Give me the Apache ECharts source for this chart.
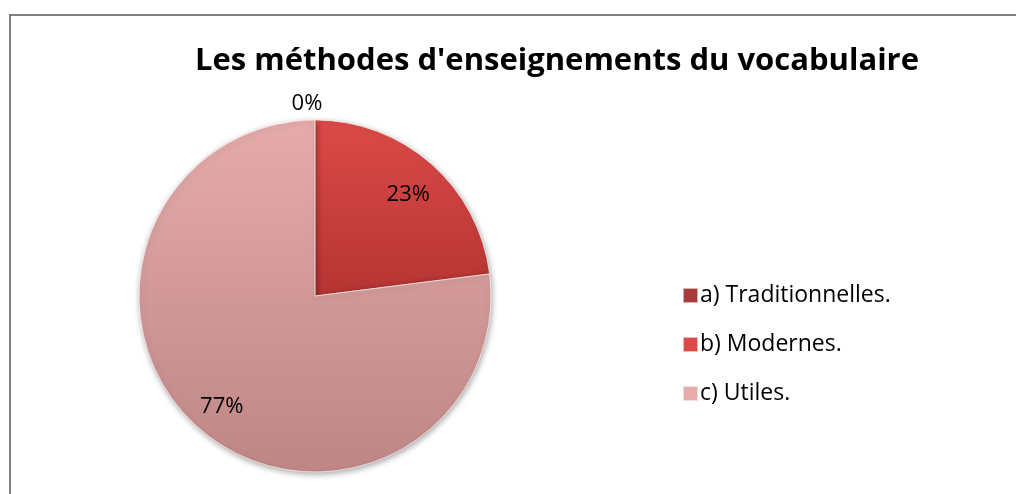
<!DOCTYPE html>
<html>
<head>
<meta charset="utf-8">
<script src="https://cdn.jsdelivr.net/npm/echarts@6/dist/echarts.min.js"></script>
<style>
html,body{margin:0;padding:0;background:#fff;}
#frame{position:absolute;left:9px;top:14px;width:1020px;height:500px;border:2px solid #7f7f7f;box-sizing:border-box;}
#chart{position:absolute;left:0;top:0;width:1016px;height:494px;}
</style>
</head>
<body>
<div id="frame"></div>
<div id="chart"></div>
<script>
const titleText = "Les méthodes d'enseignements du vocabulaire";
const categories = ["a) Traditionnelles.", "b) Modernes.", "c) Utiles."];
const values = [0, 23, 77];
const colors = [
  ["#a83a3a", "#8a2a2a"],
  ["#dc4a48", "#b53532"],
  ["#e6abab", "#bf8686"]
];

const chart = echarts.init(document.getElementById('chart'), null, {renderer: 'canvas'});
const grad = c => new echarts.graphic.LinearGradient(0, 0, 0, 1, [{offset: 0, color: c[0]}, {offset: 1, color: c[1]}]);
const labelFont = {fontFamily: 'Open Sans', fontSize: 22, color: '#000'};
const fmt = p => Math.round(p.value) + '%';

chart.setOption({
  animation: false,
  title: {
    text: titleText,
    left: 552, top: 41, textAlign: 'center',
    textStyle: {fontFamily: 'Open Sans', fontWeight: 'bold', fontSize: 31, color: '#000'}
  },
  legend: {
    orient: 'vertical', left: 682, top: 284, padding: 0,
    itemWidth: 15, itemHeight: 15, itemGap: 26, icon: 'rect',
    textStyle: {fontFamily: 'Open Sans', fontSize: 23, color: '#000', padding: [0, 0, 0, -3]},
    data: categories.map((n, i) => ({name: n, itemStyle: {color: colors[i][0]}}))
  },
  series: [{
    type: 'pie',
    center: [315, 296],
    radius: [0, 176],
    startAngle: 90,
    clockwise: true,
    avoidLabelOverlap: false,
    stillShowZeroSum: true,
    label: Object.assign({show: true, position: 'outside', formatter: fmt}, labelFont),
    labelLine: {show: false, length: 16, length2: 0},
    labelLayout: p => p.dataIndex === 0 ? {align: 'center', dx: -3} : {},
    itemStyle: {
      borderColor: 'rgba(255,255,255,0.6)', borderWidth: 1,
      shadowBlur: 6, shadowColor: 'rgba(0,0,0,0.35)', shadowOffsetX: 1, shadowOffsetY: 2
    },
    data: categories.map((n, i) => ({
      name: n, value: values[i],
      itemStyle: {color: grad(colors[i])},
      label: {show: values[i] === 0}
    }))
  }, {
    type: 'pie',
    silent: true,
    center: [315, 296],
    radius: [0, 276],
    startAngle: 90,
    clockwise: true,
    avoidLabelOverlap: false,
    label: Object.assign({show: true, position: 'inner', formatter: fmt}, labelFont),
    labelLine: {show: false},
    labelLayout: {dy: 5},
    itemStyle: {color: 'rgba(0,0,0,0)', borderWidth: 0},
    data: categories.map((n, i) => ({
      name: n, value: values[i],
      label: {show: values[i] !== 0}
    }))
  }]
});
</script>
</body>
</html>
